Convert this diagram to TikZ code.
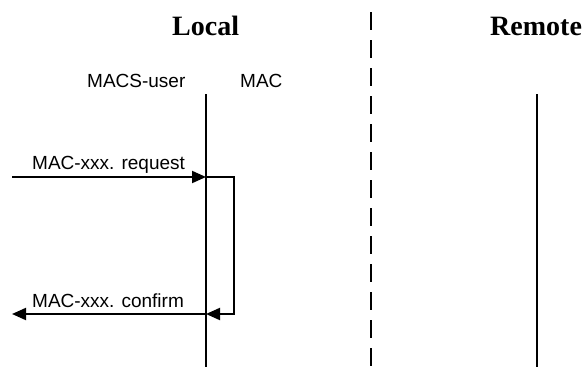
\documentclass[tikz,border=0pt]{standalone}
\usepackage{fontspec}
\setmainfont{Liberation Serif}
\newfontfamily\arialf{Liberation Sans}
\usetikzlibrary{arrows.meta}
\begin{document}
\begin{tikzpicture}[x=1pt,y=-1pt,
  title/.style={inner sep=0pt,anchor=base west,font=\fontsize{28}{28}\selectfont\bfseries},
  lbl/.style={inner sep=0pt,anchor=base west,font=\arialf\fontsize{19}{19}\selectfont},
  life/.style={line width=2pt},
  sep/.style={line width=2pt,dash pattern=on 18pt off 10pt},
  msg/.style={line width=2pt,-{Triangle[length=14pt,width=12pt]}},
  plain/.style={line width=2pt}]
\useasboundingbox (0,0) rectangle (584,367);
% titles
\node[title] (local) at (172,35) {Local};
\node[title] (remote) at (490,35) {Remote};
% entity labels
\node[lbl] (macsuser) at (87,87) {MACS-user};
\node[lbl] (mac) at (240,87) {MAC};
% lifelines
\coordinate (macTop) at (206,94);
\coordinate (macBot) at (206,367);
\coordinate (remTop) at (537,94);
\coordinate (remBot) at (537,367);
\coordinate (sepTop) at (371,12);
\coordinate (sepBot) at (371,367);
\draw[life] (macTop) -- (macBot);
\draw[life] (remTop) -- (remBot);
\draw[sep] (sepTop) -- (sepBot);
% messages
\coordinate (reqL) at (12,177);
\coordinate (reqR) at (206,177);
\coordinate (loopT) at (234,177);
\coordinate (loopB) at (234,314);
\coordinate (confR) at (206,314);
\coordinate (confL) at (12,314);
\draw[msg] (reqL) -- (reqR);
\draw[msg] (reqR) -- (loopT) -- (loopB) -- (confR);
\draw[msg] (confR) -- (confL);
\node[lbl] (reqlbl) at (32,169) {MAC-xxx. request};
\node[lbl] (conflbl) at (32,307) {MAC-xxx. confirm};
\end{tikzpicture}
\end{document}
